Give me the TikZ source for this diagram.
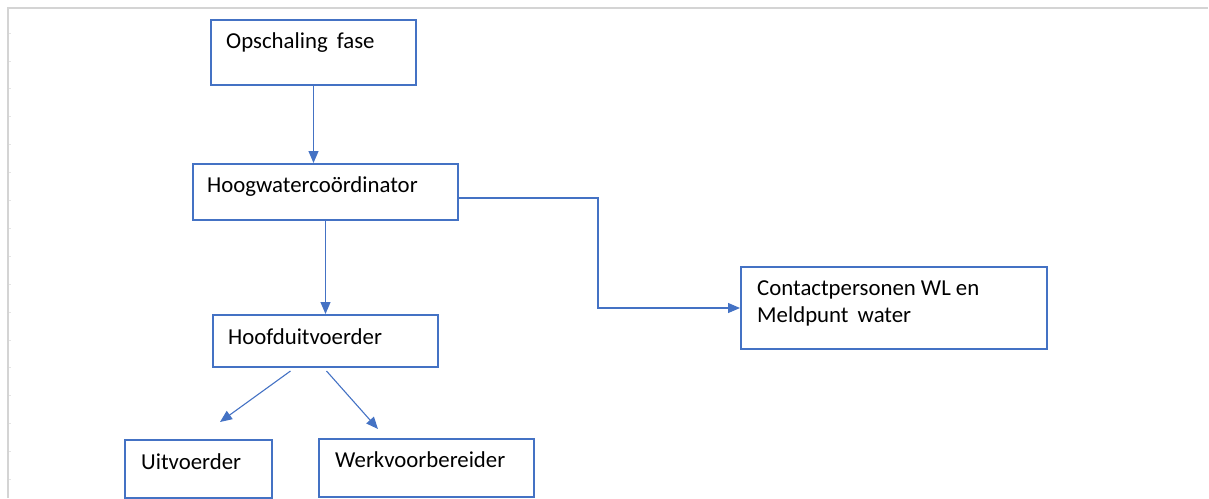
\documentclass[tikz,border=0pt]{standalone}
\usepackage{fontspec}
\setmainfont{Carlito}
\usetikzlibrary{arrows.meta}
\definecolor{boxblue}{HTML}{4472C4}
\definecolor{sheetgray}{HTML}{D4D4D4}
\tikzset{
  box/.style={draw=boxblue, line width=2pt, rectangle, inner sep=0pt, anchor=north west},
  txt/.style={inner sep=0pt, anchor=base west, font=\fontsize{22.8}{27}\selectfont, text=black},
  conn/.style={draw=boxblue, line width=1.1pt, -{Triangle[length=12pt,width=10pt]}},
}
\begin{document}
\begin{tikzpicture}[x=1pt,y=-1pt]
\useasboundingbox (0,0) rectangle (1209,498);
% sheet edge
\draw[sheetgray, line width=2pt] (7.5,498) -- (7.5,7.5) -- (1208,7.5);
\foreach \k in {0,...,16} {
  \draw[sheetgray!60, line width=0.8pt] (8.5,{33+27.9*\k}) -- (10.5,{33+27.9*\k});
}
% boxes
\node[box, minimum width=205, minimum height=65] (op) at (210,19) {};
\node[box, minimum width=265, minimum height=56] (hw) at (192,163) {};
\node[box, minimum width=225, minimum height=52] (hf) at (212,314) {};
\node[box, minimum width=306, minimum height=82] (ct) at (740,266) {};
\node[box, minimum width=147, minimum height=58] (uv) at (124,439) {};
\node[box, minimum width=215, minimum height=58] (wv) at (318,438) {};
% texts
\node[txt] (opt) at (226,48) {Opschaling\hspace{0.4em}fase};
\node[txt] (hwt) at (207,192) {Hoogwatercoördinator};
\node[txt] (hft) at (228,344) {Hoofduitvoerder};
\node[txt] (ct1) at (757,295) {Contactpersonen WL en};
\node[txt] (ct2) at (757,322) {Meldpunt\hspace{0.4em}water};
\node[txt] (uvt) at (141,469) {Uitvoerder};
\node[txt] (wvt) at (335,467) {Werkvoorbereider};
% connectors
\coordinate (a1) at (220,422);
\coordinate (a2) at (378,429);
\draw[conn] (op.south) -- (op.south |- hw.north);
\draw[conn] (hw.south -| hf.north) -- (hf.north);
\draw[conn] ([yshift=-6pt]hw.east) -- ++(139,0) |- (ct.west);
\draw[conn] ([xshift=-35pt,yshift=-3pt]hf.south) -- (a1);
\draw[conn] ([xshift=1pt,yshift=-3pt]hf.south) -- (a2);
\end{tikzpicture}
\end{document}
